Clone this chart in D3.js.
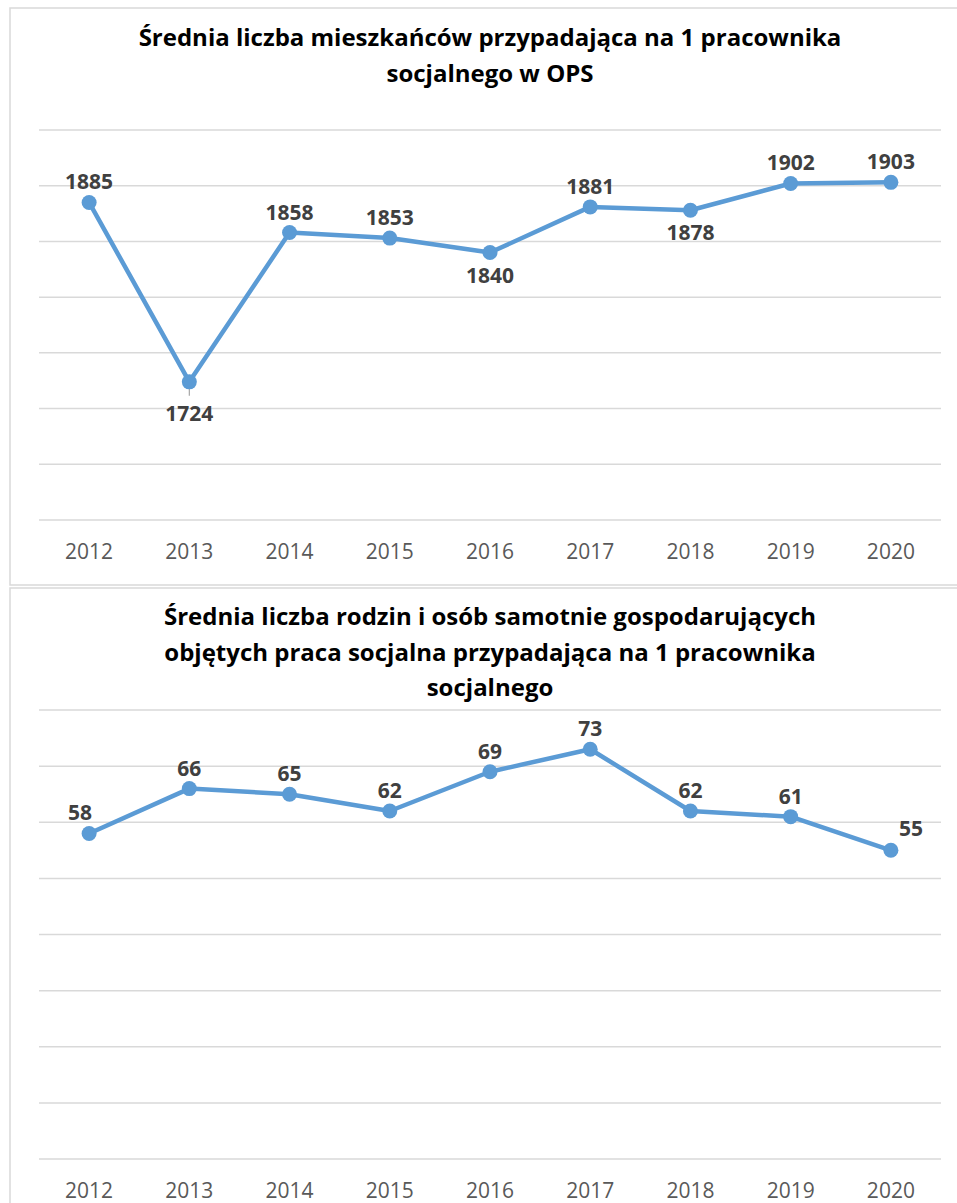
<!DOCTYPE html>
<html><head><meta charset="utf-8">
<script src="https://cdn.jsdelivr.net/npm/d3@7"></script>
<style>body{margin:0;background:#fff}svg{display:block}</style>
</head><body>
<svg id="c" width="957" height="1203"></svg>
<script>
const years = ["2012","2013","2014","2015","2016","2017","2018","2019","2020"];
const residentsPerWorker = [1885,1724,1858,1853,1840,1881,1878,1902,1903];
const familiesPerWorker = [58,66,65,62,69,73,62,61,55];
const title1 = ["Średnia liczba mieszkańców przypadająca na 1 pracownika","socjalnego w OPS"];
const title2 = ["Średnia liczba rodzin i osób samotnie gospodarujących","objętych praca socjalna przypadająca na 1 pracownika","socjalnego"];
const ticks1 = [1600,1650,1700,1750,1800,1850,1900,1950];
const ticks2 = [0,10,20,30,40,50,60,70,80];
const place1 = ["t","b","t","t","b","t","b","t","t"];
const place2 = ["tl","t","t","t","t","t","t","t","r"];

const svg = d3.select("#c");
const FONT = "'Open Sans', sans-serif";
const LINE = "#5b9bd5";

function chart(o){
  const g = svg.append("g");
  g.append("rect").attr("x",o.fx).attr("y",o.fy).attr("width",o.fw).attr("height",o.fh)
    .attr("fill","#fff").attr("stroke","#d9d9d9").attr("stroke-width",1.5);
  o.title.forEach((t,i)=>{
    g.append("text").attr("x",490).attr("y",o.titleY + i*35.5).attr("text-anchor","middle")
      .attr("font-family",FONT).attr("font-weight","bold").attr("font-size",24).attr("fill","#000").text(t);
  });
  const x = d3.scaleBand().domain(years).range([39,941]);
  const y = d3.scaleLinear().domain(o.domain).range([o.bottom,o.top]);
  g.append("g").selectAll("line").data(o.ticks).join("line")
    .attr("x1",39).attr("x2",941).attr("y1",d=>y(d)).attr("y2",d=>y(d))
    .attr("stroke","#d9d9d9").attr("stroke-width",1.5);
  const xa = g.append("g").attr("transform",`translate(0,${o.bottom})`).call(d3.axisBottom(x).tickSize(0).tickPadding(24));
  xa.select(".domain").remove();
  xa.selectAll("text").attr("font-family",FONT).attr("font-size",21).attr("fill","#595959");
  const cx = d=>x(d)+x.bandwidth()/2;
  if(o.leader!=null){
    const i=o.leader;
    g.append("line").attr("x1",cx(years[i])).attr("x2",cx(years[i]))
      .attr("y1",y(o.values[i])).attr("y2",y(o.values[i])+14).attr("stroke","#a6a6a6").attr("stroke-width",1.2);
  }
  const line = d3.line().x((d,i)=>cx(years[i])).y(d=>y(d));
  g.append("path").datum(o.values).attr("d",line).attr("fill","none").attr("stroke",LINE)
    .attr("stroke-width",4.5).attr("stroke-linejoin","round");
  g.append("g").selectAll("circle").data(o.values).join("circle")
    .attr("cx",(d,i)=>cx(years[i])).attr("cy",d=>y(d)).attr("r",7.5).attr("fill",LINE);
  g.append("g").selectAll("text").data(o.values).join("text")
    .attr("x",(d,i)=>{const p=o.place[i];return cx(years[i]) + (p==="r"?20:p==="tl"?-9:0);})
    .attr("y",(d,i)=>{const p=o.place[i];const v=y(d);
       if(p==="b") return v + (i===o.leader?39:30);
       if(p==="r") return v - 14;
       return v - 13;})
    .attr("text-anchor","middle")
    .attr("font-family",FONT).attr("font-weight","bold").attr("font-size",21).attr("fill","#404040")
    .text(d=>d);
}

chart({fx:10,fy:8,fw:970,fh:577,title:title1,titleY:46,domain:[1600,1950],ticks:ticks1,
  top:130,bottom:520,values:residentsPerWorker,place:place1,leader:1});
chart({fx:10,fy:588,fw:970,fh:640,title:title2,titleY:625,domain:[0,80],ticks:ticks2,
  top:710,bottom:1159,values:familiesPerWorker,place:place2,leader:null});
</script>
</body></html>
